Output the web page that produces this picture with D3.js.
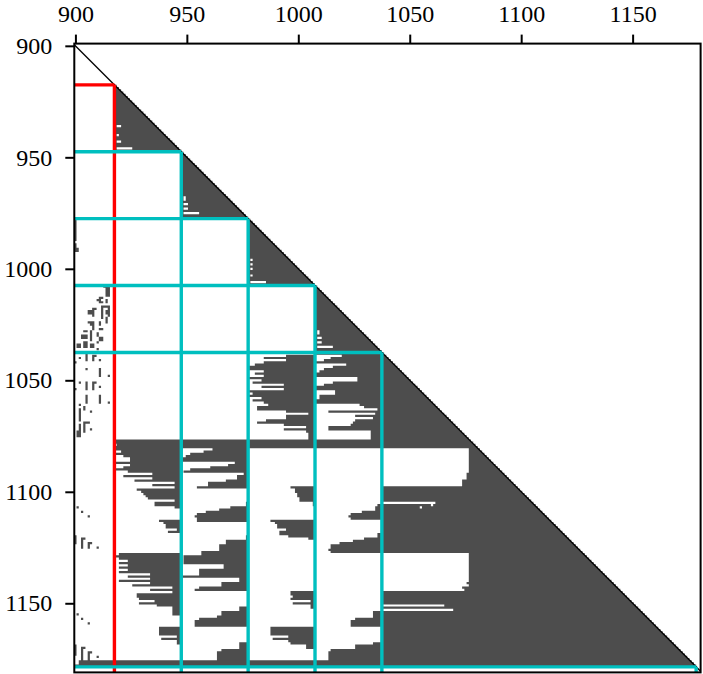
<!DOCTYPE html>
<html>
<head>
<meta charset="utf-8">
<script src="https://cdn.jsdelivr.net/npm/d3@7"></script>
<style>
  html, body { margin: 0; padding: 0; background: #fff; }
  svg { display: block; }
  text { font-family: "Liberation Serif", serif; }
</style>
</head>
<body>
<svg id="chart" width="703" height="674"></svg>
<script>
const tickValues = [900, 950, 1000, 1050, 1100, 1150];

// matrix splits, red first then cyan
const splitPoints = [917.5, 947.5, 977.5, 1007.5, 1037.5, 1178.5];
const splitColors = ["#ff0000", "#00bfbf", "#00bfbf", "#00bfbf", "#00bfbf", "#00bfbf"];

// filled triangle: rows firstRow..lastRow, columns firstRow..row
const firstRow = 918;
const lastRow = 1178;

// first column of each block
const blockStarts = [918, 948, 978, 1008, 1038];

// empty runs per block: [row from, row to, last empty column]
const blockAEmpty = [
  [948,1076,947],
  [1079,1079,918],[1082,1082,920],[1084,1084,921],[1085,1086,924],[1088,1088,924],[1089,1089,921],
  [1091,1091,923],[1092,1092,934],[1093,1093,921],[1094,1094,934],[1095,1095,926],[1096,1096,944],
  [1097,1097,934],[1098,1098,944],[1099,1099,927],[1100,1100,929],[1101,1101,930],[1102,1102,931],
  [1103,1103,932],[1104,1104,944],[1105,1106,935],[1107,1107,944],[1108,1112,947],
  [1113,1113,937],[1114,1114,939],[1115,1116,940],[1117,1117,945],[1118,1118,941],[1119,1127,947],
  [1128,1128,919],[1130,1130,919],[1131,1131,923],[1132,1132,919],[1133,1133,923],[1134,1134,919],
  [1135,1135,923],[1136,1136,919],[1137,1137,933],[1138,1138,923],[1139,1139,933],[1140,1140,919],
  [1141,1141,933],[1142,1142,925],[1143,1143,943],[1144,1144,933],[1145,1145,943],[1146,1147,927],
  [1148,1148,928],[1149,1149,935],[1150,1150,928],[1151,1151,936],[1152,1155,943],[1156,1160,947],
  [1161,1164,937],[1165,1165,945],[1166,1166,938],[1167,1168,945],[1169,1175,947]
];
const blockBEmpty = [
  [978,1076,977],
  [1081,1081,961],[1082,1082,957],[1083,1083,951],[1084,1084,949],[1087,1087,971],[1088,1088,968],
  [1089,1089,960],[1090,1090,951],[1091,1091,948],[1092,1092,975],[1093,1094,972],[1095,1095,967],
  [1096,1097,959],[1098,1098,954],[1099,1104,977],[1105,1106,976],[1107,1107,969],[1108,1108,964],
  [1109,1109,958],[1110,1110,954],[1111,1111,953],[1112,1113,954],[1114,1119,977],[1120,1121,976],
  [1122,1123,967],[1124,1126,964],[1127,1128,956],[1129,1132,948],[1133,1134,966],[1135,1137,955],
  [1139,1140,973],[1141,1142,965],[1143,1143,955],[1144,1144,953],[1145,1151,977],[1152,1153,973],
  [1154,1155,965],[1156,1156,963],[1157,1157,955],[1158,1160,953],[1161,1167,977],[1168,1170,973],
  [1171,1171,965],[1172,1175,963]
];
const blockCEmpty = [
  [1008,1038,1007],
  [1039,1039,994],[1040,1040,984],[1041,1041,994],[1042,1042,984],[1043,1043,980],[1046,1046,984],
  [1047,1047,980],[1048,1048,984],[1050,1050,983],[1051,1051,979],[1052,1052,993],[1053,1053,983],
  [1054,1054,993],[1056,1056,979],[1058,1058,983],[1059,1059,979],[1060,1060,984],[1061,1061,986],
  [1062,1063,981],[1064,1064,994],[1065,1065,1004],[1066,1067,994],[1068,1068,985],[1069,1069,981],
  [1070,1070,993],[1071,1071,1003],[1072,1072,993],[1073,1073,1003],[1074,1076,1004],[1081,1097,1007],
  [1098,1098,996],[1099,1100,998],[1101,1102,999],[1103,1104,1000],[1105,1106,1006],[1107,1112,1007],
  [1113,1113,987],[1114,1114,989],[1115,1116,990],[1117,1117,994],[1118,1119,991],[1120,1120,995],
  [1121,1121,1004],[1122,1144,1007],[1145,1146,996],[1147,1147,997],[1148,1148,996],[1149,1149,1005],
  [1150,1150,997],[1151,1152,1005],[1153,1160,1007],[1161,1164,987],[1165,1165,995],[1166,1166,988],
  [1167,1167,995],[1168,1168,996],[1169,1170,1003],[1171,1175,1007]
];
const blockDEmpty = [
  [1039,1039,1019],[1040,1040,1014],[1041,1041,1011],[1043,1043,1021],[1044,1044,1015],[1045,1045,1011],
  [1046,1046,1009],[1049,1050,1026],[1051,1051,1015],[1052,1052,1011],[1055,1056,1016],[1057,1058,1009],
  [1061,1061,1027],[1062,1062,1029],[1063,1063,1035],[1064,1064,1013],[1065,1065,1034],[1066,1066,1025],
  [1067,1067,1033],[1068,1068,1025],[1069,1069,1024],[1070,1070,1023],[1071,1072,1013],[1073,1076,1032],
  [1081,1105,1037],[1106,1106,1035],[1107,1108,1034],[1109,1109,1028],[1110,1110,1023],[1111,1111,1022],
  [1112,1112,1023],[1113,1118,1037],[1119,1120,1035],[1121,1121,1029],[1122,1122,1024],[1123,1123,1018],
  [1124,1125,1014],[1126,1126,1013],[1127,1127,1014],[1128,1153,1037],[1154,1156,1033],[1157,1157,1025],
  [1158,1160,1023],[1161,1167,1037],[1168,1168,1033],[1169,1170,1025],[1171,1171,1014],[1172,1175,1013]
];
const blockEEmpty = [
  [1081,1091,1076],[1092,1094,1075],[1095,1097,1073],[1105,1105,1061],
  [1128,1140,1076],[1141,1141,1075],[1142,1142,1076],[1143,1143,1073],[1144,1144,1074],
  [1151,1151,1065],[1153,1153,1069]
];

// small holes near the top of each block and a few stray ones: [row from, row to, col from, col to]
const notches = [
  [936,936,919,920],[940,940,919,919],[943,943,919,920],[946,946,919,925],
  [968,969,949,949],[971,971,949,950],[973,973,949,950],[975,975,949,955],
  [996,996,979,979],[998,998,979,979],[1000,1000,979,979],[1003,1003,979,979],[1006,1006,979,985],
  [1028,1029,1009,1009],[1031,1031,1009,1010],[1033,1033,1009,1010],[1035,1035,1009,1015],
  [1106,1106,1060,1060],[1107,1107,1055,1055]
];

// isolated non-zeros left of the first split: [row from, row to, col from, col to]
const scatterCells = [
  [978,987,900,900],[989,990,900,900],[991,992,900,901],
  [1008,1008,913,915],[1009,1010,914,915],[1011,1012,914,915],[1013,1013,911,912],[1014,1014,910,911],[1015,1015,911,912],[1014,1015,914,914],
  [1017,1017,912,915],[1018,1022,912,912],[1018,1021,915,915],[1019,1020,914,914],[1022,1022,914,914],
  [1018,1018,908,909],[1019,1020,906,908],[1021,1021,908,908],[1024,1024,906,908],[1025,1025,907,908],[1026,1027,908,908],[1024,1025,911,911],
  [1023,1024,914,914],[1027,1027,911,912],[1028,1028,904,905],[1030,1031,903,905],[1028,1032,907,907],
  [1029,1030,910,910],[1031,1032,911,912],[1033,1033,910,910],[1034,1035,901,902],[1033,1035,904,905],
  [1034,1035,907,908],[1036,1036,910,910],
  [1040,1040,902,902],[1038,1041,905,905],[1039,1041,908,908],[1039,1039,909,909],[1041,1041,911,911],
  [1042,1042,900,900],[1045,1045,905,905],[1045,1048,911,911],[1048,1048,915,915],
  [1051,1051,902,902],[1051,1054,905,905],[1051,1054,908,908],[1051,1051,909,909],[1053,1053,911,911],
  [1054,1054,900,900],[1057,1060,905,905],[1057,1060,911,911],[1060,1060,915,915],
  [1061,1061,902,902],[1063,1068,902,902],[1062,1063,904,904],[1064,1064,907,907],
  [1069,1073,904,904],[1070,1075,902,902],[1073,1075,901,901],[1069,1069,905,906],[1072,1072,907,907],
  [1107,1107,901,901],[1109,1109,903,903],[1111,1111,906,906],
  [1120,1123,900,900],[1121,1125,903,903],[1121,1121,904,904],[1123,1125,906,906],[1123,1123,907,907],[1125,1125,910,910],
  [1155,1155,901,901],[1157,1157,903,903],[1159,1159,906,906],
  [1169,1173,900,900],[1170,1175,903,903],[1170,1170,904,904],[1172,1175,906,906],[1172,1172,907,907],[1174,1174,910,910],
  [1176,1177,902,917],[1178,1178,900,917]
];

const svg = d3.select("#chart");

const x = d3.scaleLinear().domain([899.5, 1180.5]).range([74.3, 700.6]);
const y = d3.scaleLinear().domain([899, 1181]).range([43.6, 672.4]);

function addCells(path, cells) {
  cells.forEach(([r0, r1, c0, c1]) => {
    path.rect(x(c0 - 0.5), y(r0 - 0.5), x(c1 + 0.5) - x(c0 - 0.5), y(r1 + 0.5) - y(r0 - 0.5));
  });
}

// filled triangle
const triangle = d3.path();
addCells(triangle, d3.range(firstRow, lastRow + 1).map(r => [r, r, firstRow, r]));
svg.append("path").attr("d", triangle.toString()).attr("fill", "#4d4d4d");

// holes in it
const holes = d3.path();
[blockAEmpty, blockBEmpty, blockCEmpty, blockDEmpty, blockEEmpty].forEach((runs, i) => {
  addCells(holes, runs.map(([r0, r1, end]) => [r0, r1, blockStarts[i], end]));
});
addCells(holes, notches);
svg.append("path").attr("d", holes.toString()).attr("fill", "#fff");

const scatter = d3.path();
addCells(scatter, scatterCells);
svg.append("path").attr("d", scatter.toString()).attr("fill", "#4d4d4d");

// diagonal
svg.append("line")
  .attr("x1", x(899.5)).attr("y1", y(899.5))
  .attr("x2", x(1180.5)).attr("y2", y(1180.5))
  .attr("stroke", "#000").attr("stroke-width", 1.3);

// split lines
splitPoints.forEach((p, i) => {
  const g = svg.append("g").attr("stroke", splitColors[i]).attr("stroke-width", 3.4).attr("fill", "none");
  g.append("line").attr("x1", x(899.5)).attr("x2", x(p)).attr("y1", y(p)).attr("y2", y(p));
  g.append("line").attr("x1", x(p)).attr("x2", x(p)).attr("y1", y(p)).attr("y2", y(1181));
});

// frame
svg.append("rect")
  .attr("x", x.range()[0]).attr("y", y.range()[0])
  .attr("width", x.range()[1] - x.range()[0]).attr("height", y.range()[1] - y.range()[0])
  .attr("fill", "none").attr("stroke", "#000").attr("stroke-width", 2);

// axes
const xAxis = svg.append("g")
  .attr("transform", `translate(0,${y.range()[0]})`)
  .call(d3.axisTop(x).tickValues(tickValues).tickFormat(d3.format("d")).tickSize(9).tickPadding(13).tickSizeOuter(0));
const yAxis = svg.append("g")
  .attr("transform", `translate(${x.range()[0]},0)`)
  .call(d3.axisLeft(y).tickValues(tickValues).tickFormat(d3.format("d")).tickSize(9).tickPadding(13).tickSizeOuter(0));

[xAxis, yAxis].forEach(a => {
  a.select(".domain").remove();
  a.selectAll("line").attr("stroke", "#000").attr("stroke-width", 2);
  a.selectAll("text")
    .attr("fill", "#000")
    .style("font-family", '"Liberation Serif", serif')
    .style("font-size", "24px");
});
</script>
</body>
</html>
